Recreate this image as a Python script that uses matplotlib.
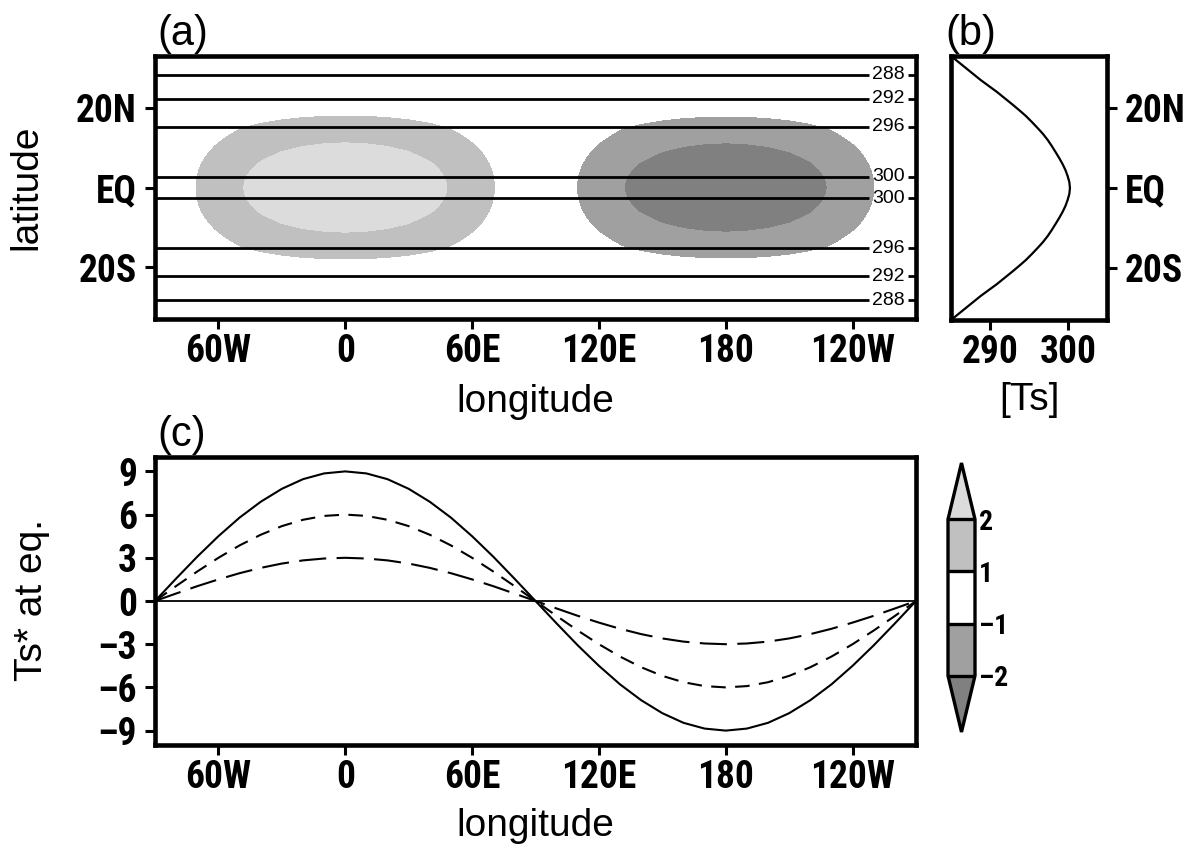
import numpy as np
import matplotlib
matplotlib.use('Agg')
import matplotlib.pyplot as plt
from matplotlib.colors import ListedColormap, BoundaryNorm
from matplotlib.font_manager import FontProperties, fontManager

# longitude / latitude axes of the idealised fields
lon = [-90, -80, -70, -60, -50, -40, -30, -20, -10, 0, 10, 20, 30, 40, 50, 60, 70, 80, 90,
       100, 110, 120, 130, 140, 150, 160, 170, 180, 190, 200, 210, 220, 230, 240, 250, 260, 270]
lat = [-33, -31.5, -30, -28.5, -27, -25.5, -24, -22.5, -21, -19.5, -18, -16.5, -15, -13.5, -12, -10.5,
       -9, -7.5, -6, -4.5, -3, -1.5, 0, 1.5, 3, 4.5, 6, 7.5, 9, 10.5, 12, 13.5, 15, 16.5, 18, 19.5,
       21, 22.5, 24, 25.5, 27, 28.5, 30, 31.5, 33]

# Ts* at the equator (panel c), three amplitudes
ts_star_9 = [0, 1.56, 3.08, 4.5, 5.79, 6.89, 7.79, 8.46, 8.86, 9, 8.86, 8.46, 7.79, 6.89, 5.79, 4.5, 3.08, 1.56, 0,
             -1.56, -3.08, -4.5, -5.79, -6.89, -7.79, -8.46, -8.86, -9, -8.86, -8.46, -7.79, -6.89, -5.79, -4.5, -3.08, -1.56, 0]
ts_star_6 = [0, 1.04, 2.05, 3.0, 3.86, 4.6, 5.2, 5.64, 5.91, 6, 5.91, 5.64, 5.2, 4.6, 3.86, 3.0, 2.05, 1.04, 0,
             -1.04, -2.05, -3.0, -3.86, -4.6, -5.2, -5.64, -5.91, -6, -5.91, -5.64, -5.2, -4.6, -3.86, -3.0, -2.05, -1.04, 0]
ts_star_3 = [0, 0.52, 1.03, 1.5, 1.93, 2.3, 2.6, 2.82, 2.95, 3, 2.95, 2.82, 2.6, 2.3, 1.93, 1.5, 1.03, 0.52, 0,
             -0.52, -1.03, -1.5, -1.93, -2.3, -2.6, -2.82, -2.95, -3, -2.95, -2.82, -2.6, -2.3, -1.93, -1.5, -1.03, -0.52, 0]

# meridional decay of Ts* (panel a shading)
lat_weight = [0.02, 0.03, 0.04, 0.06, 0.08, 0.11, 0.14, 0.18, 0.22, 0.27, 0.33, 0.41, 0.5, 0.565, 0.63, 0.7,
              0.77, 0.83, 0.89, 0.935, 0.97, 0.99, 1.0, 0.99, 0.97, 0.935, 0.89, 0.83, 0.77, 0.7, 0.63, 0.565,
              0.5, 0.41, 0.33, 0.27, 0.22, 0.18, 0.14, 0.11, 0.08, 0.06, 0.04, 0.03, 0.02]

# zonal mean Ts profile (panel b, contours in a)
ts_mean = [285.0, 285.95, 286.9, 287.85, 288.8, 289.85, 290.9, 291.85, 292.8, 293.72, 294.6, 295.37,
           296.1, 296.8, 297.4, 297.92, 298.4, 298.87, 299.3, 299.67, 299.95, 300.17, 300.25,
           300.17, 299.95, 299.67, 299.3, 298.87, 298.4, 297.92, 297.4, 296.8, 296.1, 295.37, 294.6,
           293.72, 292.8, 291.85, 290.9, 289.85, 288.8, 287.85, 286.9, 285.95, 285.0]
ts_levels = [288, 292, 296, 300]

shade_levels = [-2, -1, 1, 2]
shade_colors = ['#a0a0a0', '#ffffff', '#c0c0c0']

lon_ticks = [-60, 0, 60, 120, 180, 240]
lon_labels = ['60W', '0', '60E', '120E', '180', '120W']
lat_ticks = [-20, 0, 20]
lat_labels = ['20S', 'EQ', '20N']
c_ticks = [-9, -6, -3, 0, 3, 6, 9]
c_labels = ['\u20139', '\u20136', '\u20133', '0', '3', '6', '9']
cb_labels = ['\u20132', '\u20131', '1', '2']

plt.rcParams['font.family'] = 'Liberation Sans'

# condensed bold face for tick labels, whichever is there
avail = {f.name for f in fontManager.ttflist}
if 'Roboto Condensed' in avail:
    tickfont = FontProperties(family='Roboto Condensed', weight='bold', size=27)
    cbfont = FontProperties(family='Roboto Condensed', weight='bold', size=20)
elif 'Liberation Sans Narrow' in avail:
    tickfont = FontProperties(family='Liberation Sans Narrow', weight='bold', size=26)
    cbfont = FontProperties(family='Liberation Sans Narrow', weight='bold', size=19)
else:
    tickfont = FontProperties(family='Liberation Sans', weight='bold', size=22)
    cbfont = FontProperties(family='Liberation Sans', weight='bold', size=17)

W, H = 1194, 856
fig = plt.figure(figsize=(W / 100, H / 100), dpi=100)


def box(l, t, r, b):
    return [l / W, 1 - b / H, (r - l) / W, (b - t) / H]


def put(x, y, s, **kw):
    fig.text(x / W, 1 - y / H, s, **kw)


def frame(ax):
    for sp in ax.spines.values():
        sp.set_linewidth(3.3)
    ax.tick_params(length=7, width=2.2)
    ax.tick_params(axis='x', pad=3)
    ax.tick_params(axis='y', pad=6)


# ---- (a) map ----
ax_a = fig.add_axes(box(155, 56, 916, 319))
field = np.outer(lat_weight, ts_star_3)
cmap = ListedColormap(shade_colors)
cmap.set_under('#808080')
cmap.set_over('#dcdcdc')
norm = BoundaryNorm(shade_levels, cmap.N)
cf = ax_a.contourf(lon, lat, field, levels=shade_levels, cmap=cmap, norm=norm, extend='both')

ts_field = np.tile(np.array(ts_mean)[:, None], (1, len(lon)))
cs = ax_a.contour(lon, lat, ts_field, levels=ts_levels, colors='k', linewidths=2.0)
ax_a.clabel(cs, fmt='%d', fontsize=14, inline=True, inline_spacing=3,
            manual=[(257, 28.2), (257, 22.2), (257, 15.2), (257, 2.5),
                    (257, -2.5), (257, -15.2), (257, -22.2), (257, -28.2)])

ax_a.set_xlim(-90, 270)
ax_a.set_ylim(-33, 33)
ax_a.set_xticks(lon_ticks)
ax_a.set_xticklabels(lon_labels, fontproperties=tickfont)
ax_a.set_yticks(lat_ticks)
ax_a.set_yticklabels(lat_labels, fontproperties=tickfont)
frame(ax_a)

# ---- (b) zonal mean Ts ----
ax_b = fig.add_axes(box(951, 56, 1107, 320))
ax_b.plot(ts_mean, lat, color='k', lw=1.6)
ax_b.set_xlim(285, 305)
ax_b.set_ylim(-33, 33)
ax_b.set_xticks([290, 300])
ax_b.set_xticklabels(['290', '300'], fontproperties=tickfont)
ax_b.yaxis.tick_right()
ax_b.set_yticks(lat_ticks)
ax_b.set_yticklabels(lat_labels, fontproperties=tickfont)
frame(ax_b)

# ---- (c) Ts* at the equator ----
ax_c = fig.add_axes(box(155, 457, 916, 745))
ax_c.axhline(0, color='k', lw=1.3)
ax_c.plot(lon, ts_star_9, color='k', lw=1.5)
ax_c.plot(lon, ts_star_6, color='k', lw=1.5, ls=(0, (7, 4.5)))
ax_c.plot(lon, ts_star_3, color='k', lw=1.5, ls=(0, (13, 5)))
ax_c.set_xlim(-90, 270)
ax_c.set_ylim(-10, 10)
ax_c.set_xticks(lon_ticks)
ax_c.set_xticklabels(lon_labels, fontproperties=tickfont)
ax_c.set_yticks(c_ticks)
ax_c.set_yticklabels(c_labels, fontproperties=tickfont)
frame(ax_c)

# ---- colorbar ----
cax = fig.add_axes(box(948, 463, 975, 732))
cb = fig.colorbar(cf, cax=cax, ticks=shade_levels, extendfrac=0.36, drawedges=True)
cb.outline.set_linewidth(2.4)
cb.dividers.set_linewidth(2.4)
cb.ax.tick_params(length=0, pad=3)
cb.ax.set_yticklabels(cb_labels, fontproperties=cbfont)

# ---- texts ----
put(157, 45, '(a)', fontsize=30)
put(945, 45, '(b)', fontsize=30)
put(157, 446, '(c)', fontsize=30)
put(535, 412, 'longitude', fontsize=28, ha='center')
put(535, 836, 'longitude', fontsize=28, ha='center')
put(1029, 410, '[Ts]', fontsize=28, ha='center')
put(44, 187, 'latitude', fontsize=28, rotation=90, ha='right', va='center')
put(50, 600, 'Ts* at eq.', fontsize=28, rotation=90, ha='right', va='center')

fig.savefig('out.png', dpi=100)
